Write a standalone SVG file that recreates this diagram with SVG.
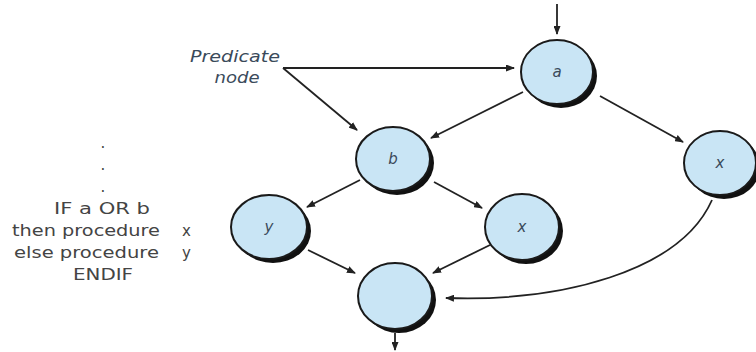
<svg xmlns="http://www.w3.org/2000/svg" width="756" height="352" viewBox="0 0 756 352">
<defs>
<style>
.n{fill:#c9e5f5;stroke:#1a1a1a;stroke-width:2}
.s{fill:#111}
.l{font-family:"DejaVu Sans",sans-serif;font-style:italic;font-size:15px;fill:#3a4a5a;text-anchor:middle}
.t{font-family:"DejaVu Sans",sans-serif;font-size:15px;fill:#444}
.c{fill:none;stroke:#222;stroke-width:1.8}
</style>
<marker id="ah" markerWidth="9" markerHeight="7" refX="8" refY="3.5" orient="auto" markerUnits="userSpaceOnUse">
<path d="M0,0 L9,3.5 L0,7 Z" fill="#222"/>
</marker>
</defs>
<rect width="756" height="352" fill="#fff"/>
<g id="code">
<text class="t" x="103" y="148" text-anchor="middle">.</text>
<text class="t" x="103" y="170" text-anchor="middle">.</text>
<text class="t" x="103" y="192" text-anchor="middle">.</text>
<text class="t" x="54" y="214" textLength="96" lengthAdjust="spacingAndGlyphs">IF a OR b</text>
<text class="t" x="12" y="236" textLength="148" lengthAdjust="spacingAndGlyphs">then procedure</text>
<text class="t" x="182" y="236">x</text>
<text class="t" x="14" y="258" textLength="145" lengthAdjust="spacingAndGlyphs">else procedure</text>
<text class="t" x="182" y="258">y</text>
<text class="t" x="73" y="280" textLength="60" lengthAdjust="spacingAndGlyphs">ENDIF</text>
</g>
<g id="label-predicate">
<text class="l" x="235" y="62" textLength="90" lengthAdjust="spacingAndGlyphs" style="font-size:16px">Predicate</text>
<text class="l" x="237" y="83" textLength="45" lengthAdjust="spacingAndGlyphs" style="font-size:16px">node</text>
</g>
<g id="connectors">
<line class="c" x1="557" y1="4" x2="557" y2="34" marker-end="url(#ah)"/>
<line class="c" x1="283" y1="68" x2="514" y2="68" marker-end="url(#ah)"/>
<line class="c" x1="283" y1="68" x2="357" y2="130" marker-end="url(#ah)"/>
<line class="c" x1="523" y1="92" x2="431" y2="138" marker-end="url(#ah)"/>
<line class="c" x1="600" y1="96" x2="683" y2="142" marker-end="url(#ah)"/>
<line class="c" x1="360" y1="180" x2="307" y2="207" marker-end="url(#ah)"/>
<line class="c" x1="434" y1="182" x2="482" y2="208" marker-end="url(#ah)"/>
<line class="c" x1="308" y1="250" x2="355" y2="273" marker-end="url(#ah)"/>
<line class="c" x1="490" y1="245" x2="433" y2="273" marker-end="url(#ah)"/>
<path class="c" d="M712,200 C680,272 560,302 446,298" marker-end="url(#ah)"/>
<line class="c" x1="395" y1="333" x2="395" y2="350" marker-end="url(#ah)"/>
</g>
<g id="node-a">
<ellipse class="s" cx="561" cy="76" rx="36" ry="32"/>
<ellipse class="n" cx="557" cy="72" rx="36" ry="32"/>
<text class="l" x="557" y="77">a</text>
</g>
<g id="node-b">
<ellipse class="s" cx="397" cy="163" rx="37" ry="32"/>
<ellipse class="n" cx="393" cy="159" rx="37" ry="32"/>
<text class="l" x="393" y="164">b</text>
</g>
<g id="node-y">
<ellipse class="s" cx="273" cy="231" rx="38" ry="32"/>
<ellipse class="n" cx="269" cy="227" rx="38" ry="32"/>
<text class="l" x="269" y="232">y</text>
</g>
<g id="node-x1">
<ellipse class="s" cx="526" cy="231" rx="37" ry="33"/>
<ellipse class="n" cx="522" cy="227" rx="37" ry="33"/>
<text class="l" x="522" y="232">x</text>
</g>
<g id="node-x2">
<ellipse class="s" cx="724" cy="167" rx="36" ry="32"/>
<ellipse class="n" cx="720" cy="163" rx="36" ry="32"/>
<text class="l" x="720" y="168">x</text>
</g>
<g id="node-end">
<ellipse class="s" cx="399" cy="300" rx="37" ry="33"/>
<ellipse class="n" cx="395" cy="296" rx="37" ry="33"/>
</g>
</svg>
